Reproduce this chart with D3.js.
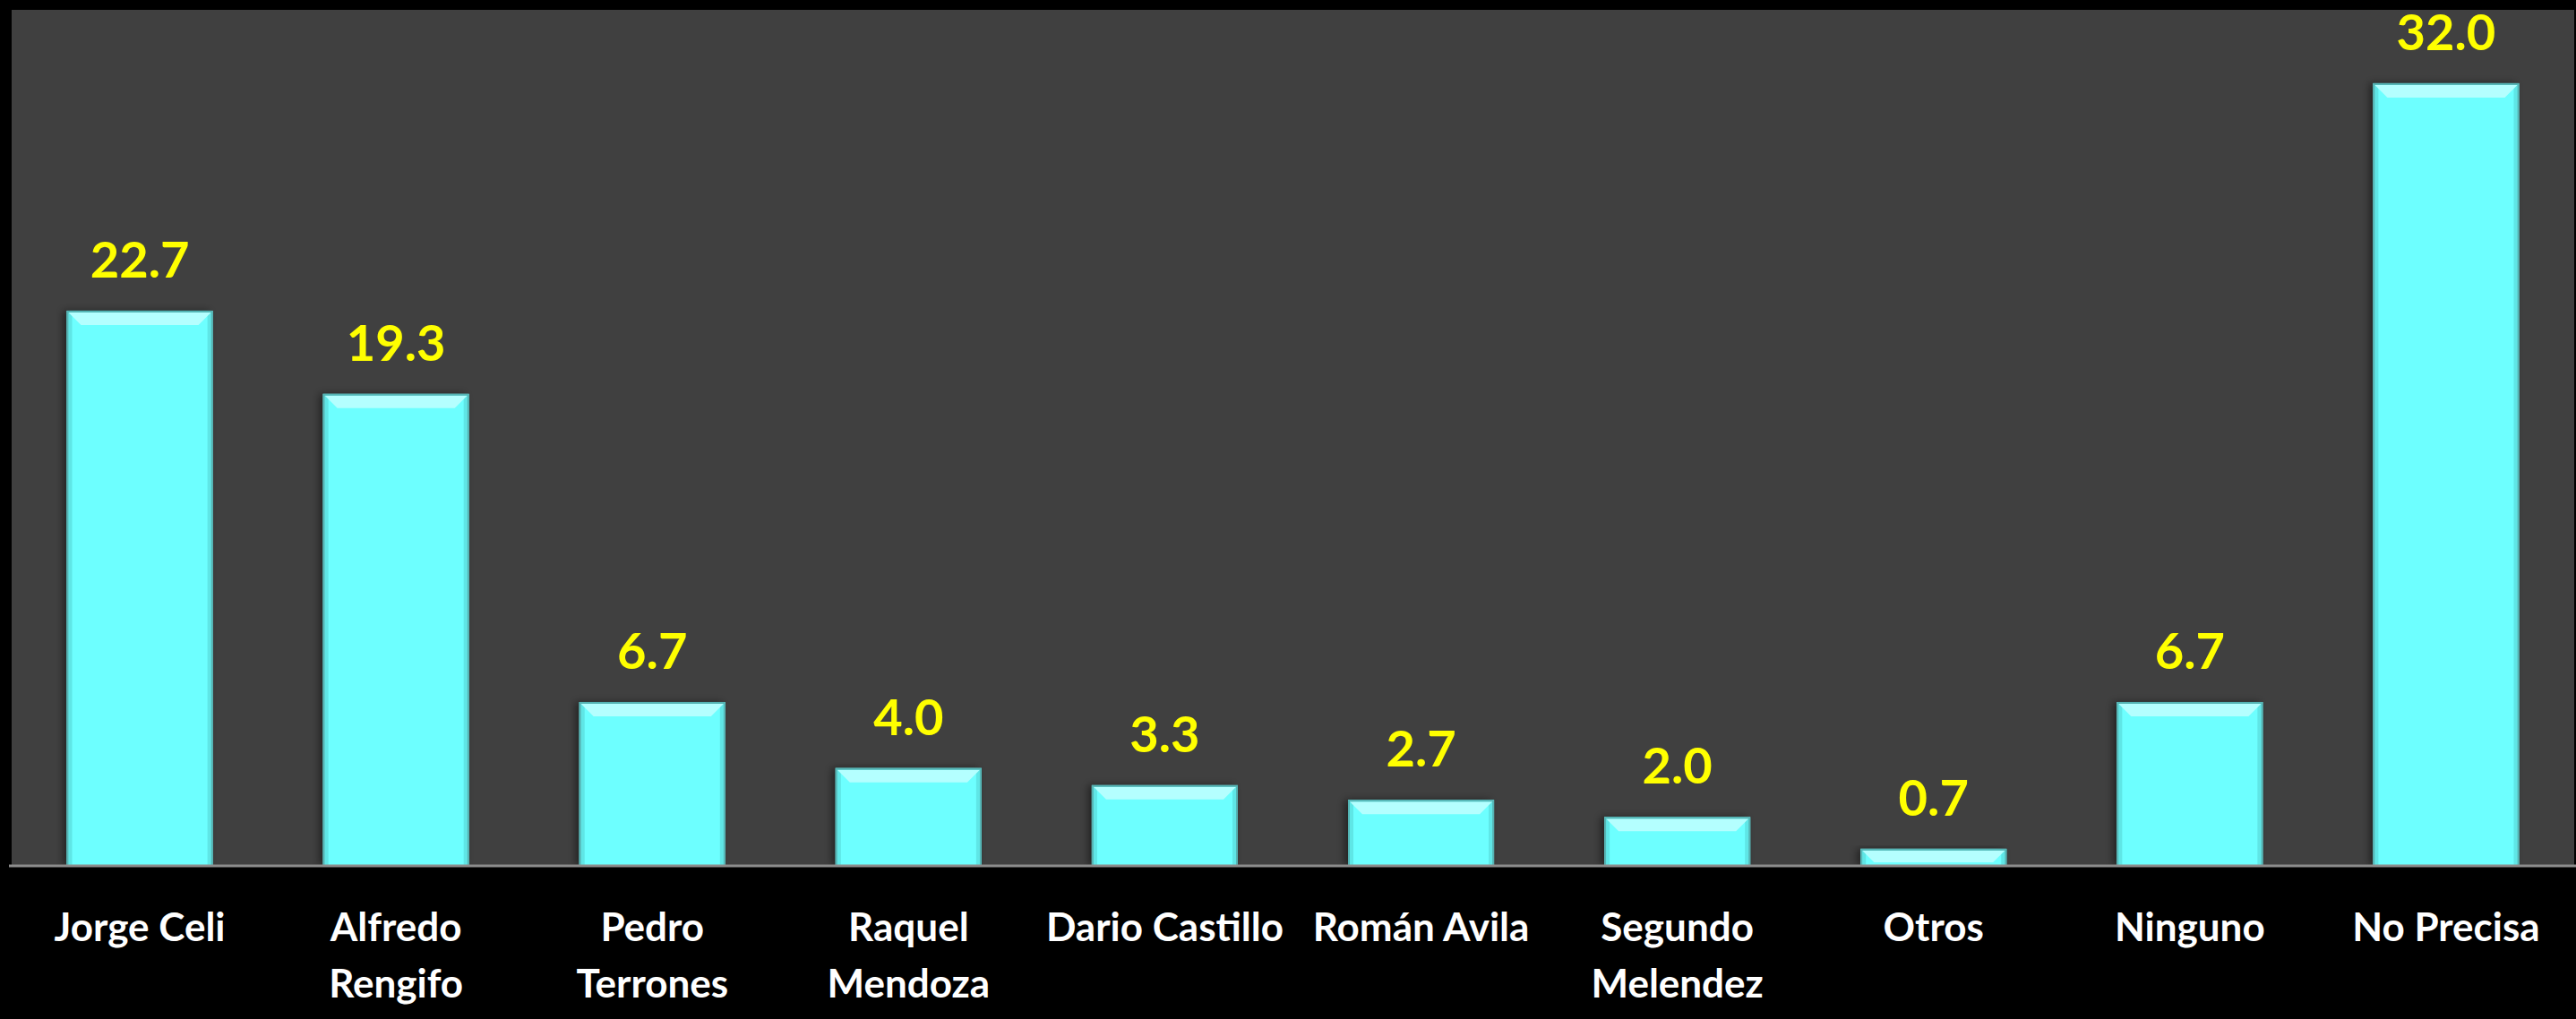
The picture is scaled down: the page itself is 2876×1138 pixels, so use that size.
<!DOCTYPE html>
<html><head><meta charset="utf-8">
<script src="https://cdn.jsdelivr.net/npm/d3@7"></script>
<style>html,body{margin:0;padding:0;background:#000;}svg{display:block;}</style>
</head><body>
<script>
const categories = [["Jorge Celi"],["Alfredo","Rengifo"],["Pedro","Terrones"],["Raquel","Mendoza"],["Dario Castillo"],["Román Avila"],["Segundo","Melendez"],["Otros"],["Ninguno"],["No Precisa"]];
const values = [22.7, 19.3, 6.7, 4.0, 3.3, 2.7, 2.0, 0.7, 6.7, 32.0];
const yMax = 35;

const W = 2876, H = 1138;
const plot = {left: 13, right: 2874, top: 11, bottom: 967};
const svg = d3.select("body").append("svg").attr("width", W).attr("height", H);
svg.append("rect").attr("width", W).attr("height", H).attr("fill", "#000");
svg.append("rect").attr("x", plot.left).attr("y", plot.top)
  .attr("width", plot.right - plot.left).attr("height", plot.bottom - plot.top).attr("fill", "#404040");

const defs = svg.append("defs");
const f = defs.append("filter").attr("id", "sh").attr("x", "-20%").attr("y", "-20%").attr("width", "140%").attr("height", "140%");
f.append("feDropShadow").attr("dx", -4).attr("dy", 0).attr("stdDeviation", 4).attr("flood-color", "#000").attr("flood-opacity", 0.45);

const keys = categories.map(c => c.join(" "));
const x = d3.scaleBand().domain(keys).range([plot.left, plot.right]).paddingInner(0.43).paddingOuter(0.215);
const y = d3.scaleLinear().domain([0, yMax]).range([plot.bottom, plot.top]);

const g = svg.append("g");
const bars = g.selectAll("g.bar").data(values).join("g").attr("class", "bar");
bars.append("rect")
  .attr("x", (d, i) => x(keys[i])).attr("y", d => y(d))
  .attr("width", x.bandwidth()).attr("height", d => y(0) - y(d))
  .attr("fill", "#6dffff").attr("filter", "url(#sh)");
bars.append("rect")
  .attr("x", (d, i) => x(keys[i]) + 2).attr("y", d => y(d) + 2)
  .attr("width", 4).attr("height", d => Math.max(0, y(0) - y(d) - 2))
  .attr("fill", "#5fe6e6");
bars.append("rect")
  .attr("x", (d, i) => x(keys[i]) + x.bandwidth() - 6).attr("y", d => y(d) + 2)
  .attr("width", 4).attr("height", d => Math.max(0, y(0) - y(d) - 2))
  .attr("fill", "#5fe6e6");
bars.append("path")
  .attr("d", (d, i) => {
    const x0 = x(keys[i]) + 2, x1 = x(keys[i]) + x.bandwidth() - 2, t = y(d) + 2;
    const h = Math.min(14, Math.max(0, (y(0) - y(d)) - 6));
    return `M${x0},${t}L${x1},${t}L${x1 - h},${t + h}L${x0 + h},${t + h}Z`;
  })
  .attr("fill", "#b4ffff");
bars.append("rect")
  .attr("x", (d, i) => x(keys[i]) + 1).attr("y", d => y(d) + 1)
  .attr("width", x.bandwidth() - 2).attr("height", d => y(0) - y(d) - 1)
  .attr("fill", "none").attr("stroke", "#55b4b4").attr("stroke-width", 2);

g.selectAll("text.val").data(values).join("text").attr("class", "val")
  .attr("x", (d, i) => x(keys[i]) + x.bandwidth() / 2)
  .attr("y", d => y(d) - 37)
  .attr("text-anchor", "middle")
  .attr("font-family", "Lato, 'Open Sans', sans-serif").attr("font-weight", "bold")
  .attr("font-size", 56).attr("fill", "#ffff00")
  .text(d => d.toFixed(1));

svg.append("line").attr("x1", 10).attr("x2", W).attr("y1", plot.bottom).attr("y2", plot.bottom)
  .attr("stroke", "#8c8c8c").attr("stroke-width", 3);

const cl = svg.selectAll("text.cat").data(categories).join("text").attr("class", "cat")
  .attr("text-anchor", "middle")
  .attr("font-family", "Lato, 'Open Sans', sans-serif").attr("font-weight", "bold")
  .attr("font-size", 44).attr("fill", "#ffffff");
cl.each(function(c, i) {
  const t = d3.select(this);
  c.forEach((line, j) => {
    t.append("tspan").attr("x", x(keys[i]) + x.bandwidth() / 2).attr("y", 1051 + j * 63).text(line);
  });
});
</script>
</body></html>
